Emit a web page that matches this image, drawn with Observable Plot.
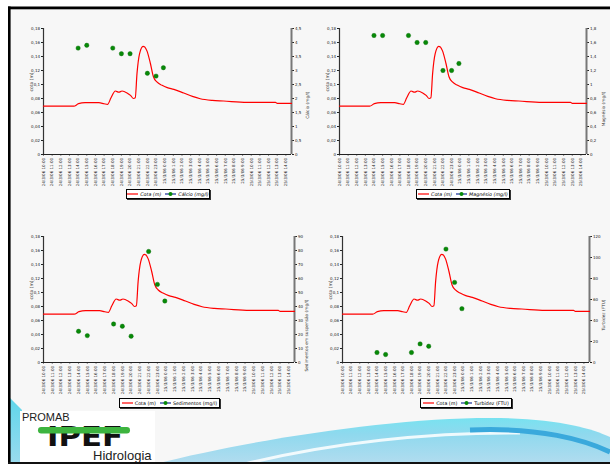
<!DOCTYPE html>
<html><head><meta charset="utf-8">
<script src="https://cdn.jsdelivr.net/npm/d3@7"></script>
<script src="https://cdn.jsdelivr.net/npm/@observablehq/plot@0.6"></script>
<style>
html,body{margin:0;padding:0;background:#fff;}
#slide{position:relative;width:610px;height:464px;overflow:hidden;background:#fff;font-family:"DejaVu Sans",sans-serif;}
.panel{position:absolute;}
.legend{position:absolute;box-sizing:border-box;background:#fff;border:1px solid #000;box-shadow:1px 1px 0 #333;font-size:4.8px;display:flex;align-items:center;justify-content:center;gap:2px;color:#000;white-space:nowrap;}
.legend svg{display:block}
</style></head>
<body><div id="slide">
<svg id="deco" width="610" height="464" style="position:absolute;left:0;top:0">
 <defs>
  <linearGradient id="wg" x1="0" y1="0" x2="0" y2="1">
   <stop offset="0" stop-color="#78e2f0"/><stop offset="0.35" stop-color="#8fd9ee"/><stop offset="1" stop-color="#b2dcef"/>
  </linearGradient>
  <linearGradient id="lg" x1="0" y1="0" x2="0" y2="1">
   <stop offset="0" stop-color="#5fd6ea"/><stop offset="1" stop-color="#9adbee"/>
  </linearGradient>
 </defs>
 <rect x="8" y="7" width="602" height="457" fill="#f7f7f7"/>
 <path d="M155,464 C250,440 390,418 490,418 C555,418 590,428 610,437 L610,464 Z" fill="url(#wg)"/>
 <path d="M245,464 C330,443 430,432 520,433" stroke="#ffffff" stroke-width="3" fill="none" opacity="0.85"/>
 <path d="M470,430 C540,427 585,440 610,452" stroke="#3aa9dc" stroke-width="5" fill="none"/>
 <path d="M10,398 L22,410 L22,464 L10,464 Z" fill="url(#lg)"/>
 <rect x="20" y="411" width="135" height="51" fill="#ffffff"/>
 <text x="22" y="421" font-family="Liberation Sans, Arial, sans-serif" font-size="11" fill="#222">PROMAB</text>
 <text x="47" y="446" font-family="DejaVu Sans" font-weight="bold" font-size="26" fill="#111" textLength="76" lengthAdjust="spacingAndGlyphs">IPEF</text>
 <rect x="38" y="427" width="92" height="6.5" rx="3.2" fill="#3db43f"/>
 <text x="93" y="460" font-family="Liberation Sans, Arial, sans-serif" font-size="13" fill="#222">Hidrologia</text>
 <rect x="8" y="6.5" width="602" height="2.8" fill="#000"/>
 <rect x="8" y="6.5" width="2.6" height="458" fill="#000"/>
 <rect x="8" y="462" width="602" height="2" fill="#111"/>
</svg>
</div>
<script>
// ---- data ----
const tickLabels = [
 "24/3/06 10:00","24/3/06 11:00","24/3/06 12:00","24/3/06 13:00","24/3/06 14:00","24/3/06 15:00",
 "24/3/06 16:00","24/3/06 17:00","24/3/06 18:00","24/3/06 19:00","24/3/06 20:00","24/3/06 21:00",
 "24/3/06 22:00","24/3/06 23:00","25/3/06 0:00","25/3/06 1:00","25/3/06 2:00","25/3/06 3:00",
 "25/3/06 4:00","25/3/06 5:00","25/3/06 6:00","25/3/06 7:00","25/3/06 8:00","25/3/06 9:00",
 "25/3/06 10:00","25/3/06 11:00","25/3/06 12:00","25/3/06 13:00","25/3/06 14:00"];
// hours since 24/3/06 10:00
const cotaHour = [0,3.5,4.05,4.8,6.4,7.0,7.4,7.8,8.3,8.7,9.07,9.65,10.05,10.4,10.6,10.8,11.1,11.5,11.7,11.95,12.35,12.7,13.1,13.7,14.3,15.06,16.2,17.2,18.1,19.5,20.8,23.5,26.8,27.0,28.65];
const cotaM = [0.069,0.069,0.0726,0.074,0.074,0.0725,0.0716,0.081,0.0907,0.089,0.0907,0.088,0.0845,0.080,0.081,0.1155,0.144,0.1545,0.1537,0.148,0.13,0.111,0.1036,0.0988,0.0955,0.0931,0.0878,0.083,0.0797,0.0773,0.0764,0.0745,0.0745,0.073,0.073];
const sampleHour = [4,5,8,9,10,12,13,13.85];
const calcio = [3.8,3.9,3.8,3.6,3.6,2.9,2.8,3.1];
const magnesio = [1.7,1.7,1.7,1.6,1.6,1.2,1.2,1.3];
const sedimentos = [22.3,19.2,27.5,25.9,18.8,79.3,55.8,43.9];
const turbidez = [9.5,7.6,9.5,17.7,15.5,108,76.3,51.3];
const leftTicks = [0,0.02,0.04,0.06,0.08,0.1,0.12,0.14,0.16,0.18];
const calcioTicks = [0,0.5,1,1.5,2,2.5,3,3.5,4,4.5];
const magnesioTicks = [0,0.2,0.4,0.6,0.8,1,1.2,1.4,1.6,1.8];
const sedTicks = [0,10,20,30,40,50,60,70,80,90];
const turbTicks = [0,20,40,60,80,100,120];

const cota = cotaHour.map((h,i)=>({h, v: cotaM[i]}));
const xMax = 28.65;
const fmt = v => String(+v.toFixed(3)).replace(".", ",");

function panel(cfg){
  const rMax = cfg.rTicks[cfg.rTicks.length-1];
  const k = 0.18 / rMax;
  const pts = sampleHour.map((h,i)=>({h, v: cfg.values[i]*k}));
  const chart = Plot.plot({
    width: cfg.width, height: 180,
    marginLeft: cfg.mL, marginRight: cfg.mR, marginTop: 16, marginBottom: 38,
    style: {background: "transparent", fontFamily: "DejaVu Sans, sans-serif", fontSize: "4px", color: "#222", overflow: "visible"},
    x: {domain: [0, xMax], axis: null},
    y: {domain: [0, 0.18], axis: null},
    marks: [
      Plot.axisX({ticks: d3.range(29), tickFormat: i => tickLabels[i], tickRotate: -90, tickSize: 1.5, tickPadding: 2, fontSize: 4, label: null}),
      Plot.axisY({anchor: "left", ticks: leftTicks, tickFormat: fmt, tickSize: 2, tickPadding: 1.5, fontSize: 4, label: null}),
      Plot.axisY({anchor: "right", ticks: cfg.rTicks.map(t => t*k), tickFormat: d => fmt(d/k), tickSize: 2, tickPadding: 1.5, fontSize: 4, label: null}),
      Plot.ruleX([0], {stroke: "#333", strokeWidth: 1.2}),
      Plot.ruleX([xMax], {stroke: "#777", strokeWidth: 2}),
      Plot.ruleY([0], {stroke: "#222", strokeWidth: 1}),
      Plot.line(cota, {x: "h", y: "v", stroke: "#ff0000", strokeWidth: 1.2, curve: "monotone-x"}),
      Plot.dot(pts, {x: "h", y: "v", fill: "#078a07", r: 2.2, stroke: "#0b6a0b", strokeWidth: 0.4}),
      Plot.text(["cota (m)"], {frameAnchor: "left", rotate: -90, dx: -12, fontSize: 4.5, fill: "#333"}),
      Plot.text([cfg.rTitle], {frameAnchor: "right", rotate: -90, dx: cfg.rdx, fontSize: 4.3, fill: "#333"})
    ]
  });
  const div = document.createElement("div");
  div.className = "panel";
  div.style.left = cfg.left + "px"; div.style.top = cfg.top + "px";
  div.appendChild(chart);
  document.getElementById("slide").appendChild(div);

  const lg = document.createElement("div");
  lg.className = "legend";
  const L = cfg.legend;
  Object.assign(lg.style, {left: L[0]+"px", top: L[1]+"px", width: L[2]+"px", height: "10px", fontStyle: cfg.italic ? "italic" : "normal"});
  lg.innerHTML =
    `<svg width="11" height="6"><line x1="0" y1="3" x2="11" y2="3" stroke="#ff0000" stroke-width="1.2"/></svg><span>Cota (m)</span>` +
    `<svg width="11" height="6" style="margin-left:2px"><line x1="0" y1="3" x2="11" y2="3" stroke="#1a2f9a" stroke-width="1.2"/><circle cx="5.5" cy="3" r="2" fill="#078a07"/></svg><span>${cfg.legendLabel}</span>`;
  document.getElementById("slide").appendChild(lg);
}

panel({left: 10, top: 12, width: 300, mL: 33, mR: 19, rTicks: calcioTicks, values: calcio, rTitle: "Cálcio (mg/l)", rdx: 16, legend: [126,189,84], legendLabel: "Cálcio (mg/l)", italic: true});
panel({left: 305, top: 12, width: 305, mL: 34, mR: 24, rTicks: magnesioTicks, values: magnesio, rTitle: "Magnésio (mg/l)", rdx: 17, legend: [416,189,94], legendLabel: "Magnésio (mg/l)", italic: true});
panel({left: 10, top: 220, width: 305, mL: 33, mR: 21, rTicks: sedTicks, values: sedimentos, rTitle: "Sedimentos em suspensão (mg/l)", rdx: 12, legend: [119,398,101], legendLabel: "Sedimentos (mg/l)", italic: false});
panel({left: 305, top: 220, width: 305, mL: 37, mR: 21, rTicks: turbTicks, values: turbidez, rTitle: "Turbidez (FTU)", rdx: 14, legend: [420,398,92], legendLabel: "Turbidez (FTU)", italic: false});
</script>
</body></html>
